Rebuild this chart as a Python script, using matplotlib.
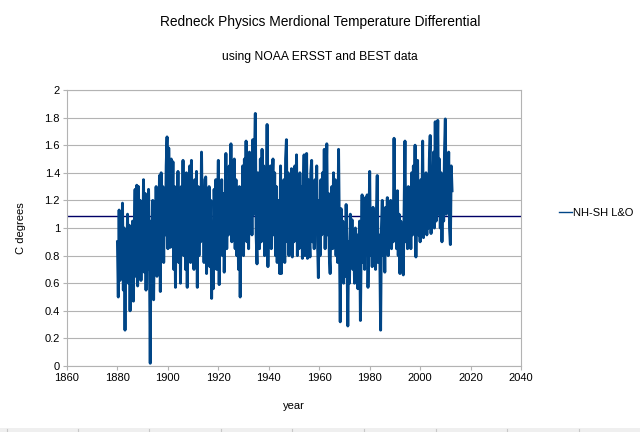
import numpy as np
import matplotlib.pyplot as plt
from matplotlib.patches import Rectangle
from matplotlib.lines import Line2D

plt.rcParams['font.family'] = ['Liberation Sans', 'DejaVu Sans']

# NH-SH land & ocean differential (3 samples per year, 1880-2012)
nh_sh = [
    0.90, 0.50, 1.13,  0.62, 1.05, 0.72,  1.18, 0.55, 1.00,  0.26, 0.95, 0.70,  1.10, 0.60, 1.02,
    0.40, 0.92, 0.75,  1.05, 0.47, 0.98,  1.28, 0.65, 1.31,  0.58, 1.30, 0.80,  1.20, 0.62, 1.05,
    0.75, 1.35, 0.68,  1.25, 0.55, 1.10,  0.70, 1.28, 0.85,  0.02, 1.05, 0.80,  1.20, 0.48, 1.00,
    0.72, 1.30, 0.65,  1.25, 0.80, 1.38,  0.54, 1.40, 0.85,  1.30, 0.75, 1.22,  0.95, 1.45, 1.66,
    0.85, 1.58, 1.20,  0.86, 1.50, 1.00,  1.48, 0.70, 1.30,  0.57, 1.25, 0.90,  1.41, 0.75, 1.20,
    0.60, 1.30, 0.95,  1.49, 0.80, 1.35,  0.70, 1.40, 0.57,  1.30, 0.85, 1.45,  0.75, 1.49, 0.95,
    1.25, 0.70, 1.35,  0.85, 1.41, 0.57,  1.30, 0.80, 1.20,  0.90, 1.55, 1.00,  1.25, 0.75, 1.35,
    1.37, 0.67, 1.10,  0.80, 1.30, 0.72,  1.20, 0.49, 1.00,  0.56, 1.28, 0.85,  1.35, 0.70, 1.10,
    1.49, 0.59, 1.20,  0.90, 1.35, 0.80,  1.25, 0.68, 1.05,  1.54, 0.85, 1.30,  0.95, 1.45, 1.10,
    1.61, 0.90, 1.40,  0.99, 1.50, 0.85,  1.35, 0.80, 1.25,  0.70, 1.30, 0.50,  1.20, 0.85, 1.45,
    0.80, 1.50, 1.00,  1.63, 0.90, 1.40,  0.85, 1.55, 1.05,  1.45, 0.95, 1.64,  1.10, 1.50, 1.83,
    0.95, 0.74, 1.40,  1.30, 0.85, 1.50,  0.90, 1.57, 1.10,  1.45, 0.80, 1.30,  1.00, 1.75, 0.72,
    1.35, 0.90, 1.45,  0.85, 1.30, 1.50,  0.95, 1.40, 0.80,  1.30, 0.75, 1.20,  0.90, 0.67, 1.45,
    0.67, 1.25, 0.85,  1.35, 0.75, 1.50,  1.64, 0.90, 1.40,  0.80, 1.30, 0.95,  1.43, 0.79, 1.20,
    0.90, 1.45, 1.00,  1.53, 0.80, 1.30,  0.85, 1.40, 1.05,  1.30, 0.78, 1.25,  1.53, 0.80, 1.20,
    1.54, 0.78, 1.35,  0.95, 0.79, 1.40,  1.49, 0.90, 1.30,  0.85, 1.35, 1.00,  1.45, 0.90, 0.64,
    1.20, 0.80, 1.35,  0.95, 1.40, 1.00,  1.57, 0.85, 1.30,  1.61, 0.95, 1.25,  0.80, 0.67, 1.20,
    1.30, 0.85, 1.40,  0.90, 1.35, 0.80,  1.20, 0.75, 1.57,  0.95, 0.32, 1.14,  0.75, 1.05, 0.60,
    1.00, 0.65, 1.17,  0.85, 0.29, 0.90,  0.60, 1.10, 0.75,  1.06, 0.70, 0.95,  0.60, 1.00, 0.80,
    0.95, 0.56, 0.85,  1.05, 0.33, 0.90,  1.24, 0.75, 1.00,  0.70, 1.22, 0.85,  1.24, 0.57, 0.95,
    1.41, 0.80, 1.00,  0.72, 1.15, 0.85,  1.00, 0.70, 1.10,  1.38, 0.75, 0.95,  0.85, 0.26, 1.00,
    1.20, 0.80, 1.05,  0.68, 1.15, 0.85,  1.22, 0.80, 1.10,  0.90, 1.20, 0.85,  1.10, 0.90, 1.65,
    0.95, 1.15, 0.85,  1.27, 0.80, 1.10,  0.67, 1.05, 0.80,  1.00, 0.66, 1.15,  1.63, 0.90, 1.20,
    0.85, 1.30, 1.00,  1.20, 0.85, 1.40,  0.95, 1.45, 1.10,  1.60, 0.79, 1.30,  1.49, 0.95, 1.20,
    0.90, 1.35, 1.05,  1.63, 0.93, 1.30,  1.05, 1.40, 0.95,  1.30, 1.00, 1.50,  1.67, 0.96, 1.35,
    1.10, 1.55, 1.00,  1.77, 1.05, 1.40,  1.78, 1.10, 1.50,  1.00, 1.40, 0.90,  1.30, 1.05, 1.55,
    1.79, 1.10, 1.40,  1.20, 1.55, 1.00,  0.88, 1.45, 1.27,
]
mean_level = 1.09
years = 1880 + np.arange(len(nh_sh)) / 3.0

x_ticks = [1860, 1880, 1900, 1920, 1940, 1960, 1980, 2000, 2020, 2040]
y_ticks = [0, 0.2, 0.4, 0.6, 0.8, 1, 1.2, 1.4, 1.6, 1.8, 2]

fig = plt.figure(figsize=(6.4, 4.32), dpi=100)
ax = fig.add_axes([67 / 640, 1 - 366 / 432, (521 - 67) / 640, (366 - 90) / 432])

ax.axhline(mean_level, color='#000066', linewidth=1.0, zorder=2)
ax.plot(years, nh_sh, color='#004586', linewidth=2.1, zorder=3)

ax.set_xlim(1860, 2040)
ax.set_ylim(0, 2)
ax.set_xticks(x_ticks)
ax.set_yticks(y_ticks)
ax.set_yticklabels([f'{v:g}' for v in y_ticks])
ax.grid(axis='y', color='#b3b3b3', linewidth=0.8)
ax.set_axisbelow(True)
for s in ax.spines.values():
    s.set_color('#b3b3b3')
    s.set_linewidth(0.8)
ax.tick_params(colors='#b3b3b3', labelcolor='#000000', labelsize=8, length=3, width=0.8, pad=2)

ax.set_xlabel('year', fontsize=8, labelpad=13)
ax.set_ylabel('C degrees', fontsize=8, labelpad=13)

fig.text(0.5, 1 - 22 / 432, 'Redneck Physics Merdional Temperature Differential',
         ha='center', va='center', fontsize=9.9)
fig.text(0.5, 1 - 57 / 432, 'using NOAA ERSST and BEST data',
         ha='center', va='center', fontsize=8.7)

handle = Line2D([], [], color='#004586', linewidth=1.0)
fig.legend([handle], ['NH-SH L&O'], loc='center left', bbox_to_anchor=(553 / 640, 1 - 213 / 432),
           frameon=False, fontsize=8, handlelength=1.2, handletextpad=0.1, borderpad=0)

# faint spreadsheet strip along the bottom edge
fig.add_artist(Rectangle((0, 0), 1, 4 / 432, transform=fig.transFigure, color='#efefef', lw=0))
for px in [6.5, 78, 149, 221, 292, 364, 436, 507, 579]:
    fig.add_artist(Line2D([px / 640, px / 640], [0, 3 / 432], transform=fig.transFigure,
                          color='#c8c8c8', lw=0.8))

fig.savefig('out.png', dpi=100)
